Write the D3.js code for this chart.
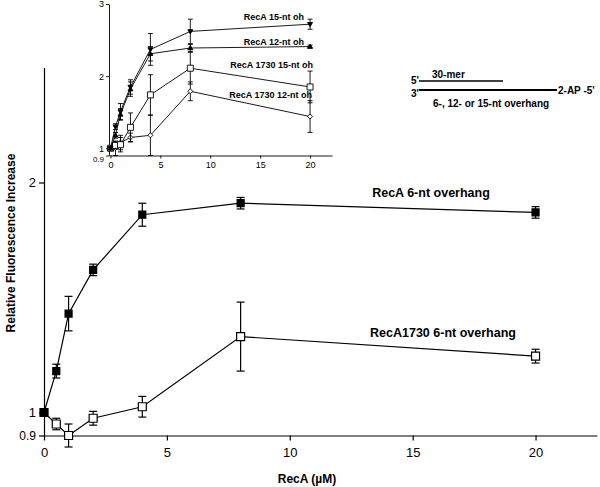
<!DOCTYPE html>
<html>
<head>
<meta charset="utf-8">
<script src="https://cdn.jsdelivr.net/npm/d3@7"></script>
<style>
  html, body { margin: 0; padding: 0; background: #fff; }
  svg { display: block; }
  text { font-family: "Liberation Sans", Arial, Helvetica, sans-serif; fill: #000; }
</style>
</head>
<body>
<svg id="chart" width="600" height="487"></svg>
<script>
// ---------------- DATA ----------------
const concMain = [0, 0.5, 1, 2, 4, 8, 20];
const recA6 = [1.0, 1.18, 1.43, 1.62, 1.86, 1.91, 1.87];
const recA6Err = [0.01, 0.03, 0.075, 0.025, 0.05, 0.025, 0.025];
const recA1730_6 = [1.0, 0.95, 0.90, 0.975, 1.025, 1.33, 1.245];
const recA1730_6Err = [0.01, 0.025, 0.05, 0.03, 0.045, 0.15, 0.03];

const mainXTicks = [0, 5, 10, 15, 20];
const mainYTicks = [0.9, 1, 2];

const concInset = [0, 0.5, 1, 2, 4, 8, 20];
const recA15 = [1.0, 1.3, 1.51, 1.85, 2.37, 2.62, 2.72];
const recA15Err = [0.02, 0.04, 0.11, 0.1, 0.22, 0.17, 0.07];
const recA12 = [1.0, 1.18, 1.47, 1.82, 2.31, 2.39, 2.41];
const recA12Err = [0.02, 0.04, 0.08, 0.1, 0.1, 0.05, 0.02];
const recA1730_15 = [1.0, 1.04, 1.05, 1.29, 1.74, 2.11, 1.85];
const recA1730_15Err = [0.02, 0.05, 0.1, 0.2, 0.28, 0.22, 0.22];
const recA1730_12 = [1.0, 1.0, 1.08, 1.15, 1.18, 1.79, 1.44];
const recA1730_12Err = [0.02, 0.1, 0.1, 0.06, 0.28, 0.13, 0.22];

const insetXTicks = [0, 5, 10, 15, 20];
const insetYTicks = [0.9, 1, 2, 3];

const mainLabels = ["RecA 6-nt overhang", "RecA1730 6-nt overhang"];
const insetLabels = ["RecA 15-nt oh", "RecA 12-nt oh", "RecA 1730 15-nt oh", "RecA 1730 12-nt oh"];

// ---------------- DRAW ----------------
const svg = d3.select("#chart");

// Main scales
const x = d3.scaleLinear().domain([0, 22.5]).range([44, 597]);
const y = d3.scaleLinear().domain([0.9, 2.5]).range([435.5, 67.5]);

// Inset scales
const xi = d3.scaleLinear().domain([-0.15, 22.2]).range([109, 332]);
const yi = d3.scaleLinear().domain([0.9, 3.0]).range([155.5, 4]);

function drawAxes(g, xs, ys, xt, yt, opt) {
  const xAxis = d3.axisBottom(xs).tickValues(xt).tickSize(opt.tick).tickSizeOuter(0).tickFormat(d3.format("~g"));
  const yAxis = d3.axisLeft(ys).tickValues(yt).tickSize(opt.tick).tickSizeOuter(0).tickFormat(d3.format("~g"));
  const gx = g.append("g").attr("transform", `translate(0,${ys.range()[0]})`).call(xAxis);
  const gy = g.append("g").attr("transform", `translate(${xs.range()[0]},0)`).call(yAxis);
  [gx, gy].forEach(a => {
    a.select(".domain").attr("stroke", "#000").attr("stroke-width", opt.sw);
    a.selectAll(".tick line").attr("stroke", "#000").attr("stroke-width", opt.sw);
    a.selectAll(".tick text").attr("font-size", opt.fs).attr("font-family", "Liberation Sans, Arial, sans-serif").attr("fill", "#000");
  });
  gx.selectAll(".tick text").attr("y", opt.tick + opt.padX).attr("dy", "0.71em");
  gy.selectAll(".tick text").attr("x", -opt.tick - opt.padY);
  // the lowest tick (0.9) label sits slightly lower, as in the original figure
  gy.selectAll(".tick text").filter(d => d === 0.9).attr("dy", opt.lowDy).attr("font-size", opt.fs - 1);
  return {gx, gy};
}

function drawSeries(g, xs, ys, xv, yv, ev, opt) {
  const line = d3.line().x((d, i) => xs(xv[i])).y(d => ys(d));
  g.append("path").datum(yv).attr("d", line).attr("fill", "none").attr("stroke", "#000").attr("stroke-width", opt.sw);
  const eg = g.append("g");
  yv.forEach((v, i) => {
    const cx = xs(xv[i]);
    const top = ys(v + ev[i]), bot = ys(v - ev[i]);
    eg.append("line").attr("x1", cx).attr("x2", cx).attr("y1", top).attr("y2", bot).attr("stroke", "#000").attr("stroke-width", opt.sw);
    eg.append("line").attr("x1", cx - opt.cap).attr("x2", cx + opt.cap).attr("y1", top).attr("y2", top).attr("stroke", "#000").attr("stroke-width", opt.sw);
    eg.append("line").attr("x1", cx - opt.cap).attr("x2", cx + opt.cap).attr("y1", bot).attr("y2", bot).attr("stroke", "#000").attr("stroke-width", opt.sw);
  });
  const mg = g.append("g");
  yv.forEach((v, i) => {
    const cx = xs(xv[i]), cy = ys(v);
    const s = opt.size;
    let path;
    if (opt.shape === "square") {
      path = `M${cx - s / 2},${cy - s / 2}h${s}v${s}h${-s}Z`;
    } else if (opt.shape === "down") {
      path = `M${cx - s / 2},${cy - s * 0.35}L${cx + s / 2},${cy - s * 0.35}L${cx},${cy + s * 0.5}Z`;
    } else if (opt.shape === "up") {
      path = `M${cx - s / 2},${cy + s * 0.35}L${cx + s / 2},${cy + s * 0.35}L${cx},${cy - s * 0.5}Z`;
    } else {
      path = `M${cx},${cy - s / 2}L${cx + s / 2},${cy}L${cx},${cy + s / 2}L${cx - s / 2},${cy}Z`;
    }
    mg.append("path").attr("d", path)
      .attr("fill", opt.filled ? "#000" : "#fff")
      .attr("stroke", "#000").attr("stroke-width", opt.sw);
  });
}

// ---- Main chart ----
const main = svg.append("g");
drawAxes(main, x, y, mainXTicks, mainYTicks, {tick: 5, sw: 1.2, fs: 13, padX: 7, padY: 3, lowDy: "0.3em"});

drawSeries(main, x, y, concMain, recA1730_6, recA1730_6Err, {sw: 1.2, cap: 4, size: 8, shape: "square", filled: false});
drawSeries(main, x, y, concMain, recA6, recA6Err, {sw: 1.2, cap: 4, size: 7, shape: "square", filled: true});

main.append("text").attr("x", 431).attr("y", 193).attr("dy", "0.35em").attr("text-anchor", "middle")
  .attr("font-size", 12.5).attr("font-weight", "bold").text(mainLabels[0]);
main.append("text").attr("x", 443).attr("y", 333).attr("dy", "0.35em").attr("text-anchor", "middle")
  .attr("font-size", 12.5).attr("font-weight", "bold").text(mainLabels[1]);

main.append("text").attr("transform", "translate(11,243) rotate(-90)").attr("text-anchor", "middle")
  .attr("dy", "0.35em").attr("font-size", 12).attr("font-weight", "bold").text("Relative Fluorescence Increase");
main.append("text").attr("x", 307).attr("y", 479).attr("dy", "0.35em").attr("text-anchor", "middle")
  .attr("font-size", 12).attr("font-weight", "bold").text("RecA (\u00b5M)");

// ---- Inset ----
const inset = svg.append("g");
drawAxes(inset, xi, yi, insetXTicks, insetYTicks, {tick: 3, sw: 0.9, fs: 9, padX: 3, padY: 2, lowDy: "0.75em"});

drawSeries(inset, xi, yi, concInset, recA1730_12, recA1730_12Err, {sw: 0.9, cap: 2.5, size: 5, shape: "diamond", filled: false});
drawSeries(inset, xi, yi, concInset, recA1730_15, recA1730_15Err, {sw: 0.9, cap: 2.5, size: 6, shape: "square", filled: false});
drawSeries(inset, xi, yi, concInset, recA12, recA12Err, {sw: 0.9, cap: 2.5, size: 5, shape: "up", filled: true});
drawSeries(inset, xi, yi, concInset, recA15, recA15Err, {sw: 0.9, cap: 2.5, size: 5, shape: "down", filled: true});

const insetLabelPos = [[304, 17], [304, 42], [313, 65], [312, 95]];
insetLabels.forEach((t, i) => {
  inset.append("text").attr("x", insetLabelPos[i][0]).attr("y", insetLabelPos[i][1]).attr("dy", "0.35em")
    .attr("text-anchor", "end").attr("font-size", 9).attr("font-weight", "bold").text(t);
});

// ---- Substrate diagram ----
const dg = svg.append("g");
dg.append("line").attr("x1", 419).attr("x2", 503).attr("y1", 81).attr("y2", 81).attr("stroke", "#000").attr("stroke-width", 1.6);
dg.append("line").attr("x1", 419).attr("x2", 557).attr("y1", 90).attr("y2", 90).attr("stroke", "#000").attr("stroke-width", 1.8);
dg.append("text").attr("x", 411).attr("y", 80).attr("dy", "0.35em").attr("font-size", 10).attr("font-weight", "bold").text("5'");
dg.append("text").attr("x", 411).attr("y", 93).attr("dy", "0.35em").attr("font-size", 10).attr("font-weight", "bold").text("3'");
dg.append("text").attr("x", 432).attr("y", 74).attr("dy", "0.35em").attr("font-size", 10).attr("font-weight", "bold").text("30-mer");
dg.append("text").attr("x", 558).attr("y", 90).attr("dy", "0.35em").attr("font-size", 10).attr("font-weight", "bold").text("2-AP -5'");
dg.append("text").attr("x", 433).attr("y", 103).attr("dy", "0.35em").attr("font-size", 10).attr("font-weight", "bold").text("6-, 12- or 15-nt overhang");
</script>
</body>
</html>
